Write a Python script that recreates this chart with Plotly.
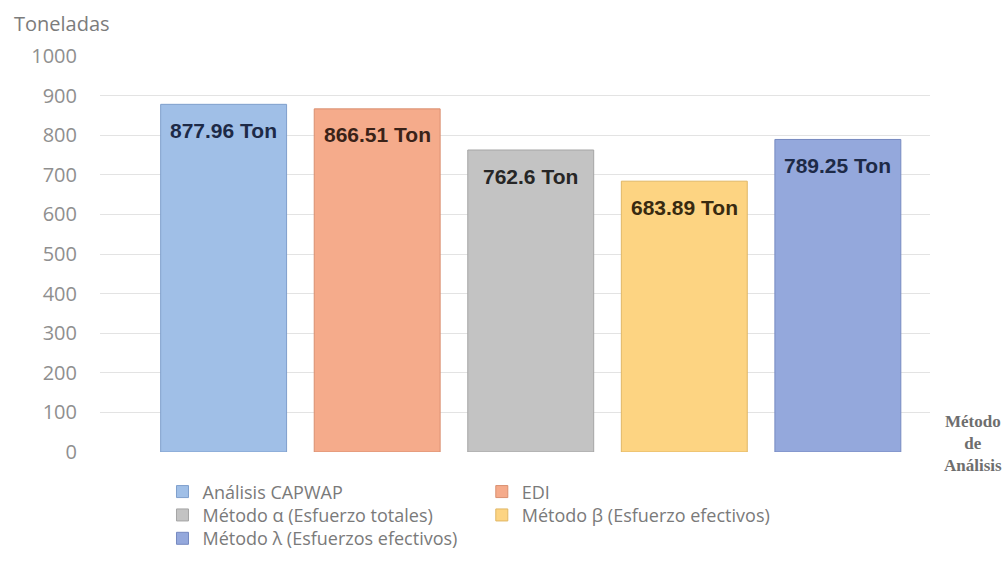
import plotly.graph_objects as go

# Capacidad de carga por método de análisis (toneladas)
metodos = [
    "Análisis CAPWAP",
    "EDI",
    "Método α (Esfuerzo totales)",
    "Método β (Esfuerzo efectivos)",
    "Método λ (Esfuerzos efectivos)",
]
toneladas = [877.96, 866.51, 762.6, 683.89, 789.25]
etiquetas = ["877.96 Ton", "866.51 Ton", "762.6 Ton", "683.89 Ton", "789.25 Ton"]
colores = ["#a0bfe7", "#f5ab8b", "#c3c3c3", "#fdd482", "#94a8dc"]
bordes = ["#7f9fcc", "#d98f70", "#a5a5a5", "#e0b765", "#7689c0"]
color_texto = ["#1d2a47", "#3a2218", "#262626", "#382a10", "#1d2a47"]
y_ticks = list(range(0, 1001, 100))

# Posición de cada entrada de la leyenda (columna, fila) en dos columnas
leyenda_col = [0, 1, 0, 1, 0]
leyenda_fila = [0, 0, 1, 1, 2]
leyenda_x = [0.0753, 0.460]
leyenda_y = [-0.1007, -0.1597, -0.2187]

fig = go.Figure()
for i, (nombre, valor, color, borde) in enumerate(zip(metodos, toneladas, colores, bordes)):
    fig.add_trace(go.Bar(
        x=[nombre], y=[valor], name=nombre, width=0.82,
        marker=dict(color=color, line=dict(color=borde, width=1)),
        legend="legend" if i == 0 else f"legend{i + 1}",
        hoverinfo="x+y",
    ))

# Etiquetas de valor dentro de cada barra, cerca del borde superior
for nombre, valor, texto, ct in zip(metodos, toneladas, etiquetas, color_texto):
    fig.add_annotation(
        x=nombre, y=valor, text=f"<b>{texto}</b>", showarrow=False,
        yanchor="middle", yshift=-26,
        font=dict(family="Liberation Sans, Arial", size=21, color=ct),
    )

fig.add_annotation(
    xref="paper", yref="paper", x=-0.106, y=1.081, xanchor="left", yanchor="middle",
    text="Toneladas", showarrow=False,
    font=dict(family="Open Sans, Liberation Sans", size=20, color="#7c7c7c"),
)
fig.add_annotation(
    xref="paper", yref="paper", x=1.052, y=0.022, xanchor="center", yanchor="middle",
    text="<b>Método<br>de<br>Análisis</b>", showarrow=False, align="center",
    font=dict(family="Liberation Serif, DejaVu Serif", size=17, color="#6e6e6e"),
)

leyenda_fuente = dict(family="Open Sans, Liberation Sans", size=18, color="#7a7a7a")
leyendas = {}
for i in range(len(metodos)):
    clave = "legend" if i == 0 else f"legend{i + 1}"
    leyendas[clave] = dict(
        x=leyenda_x[leyenda_col[i]], y=leyenda_y[leyenda_fila[i]],
        xanchor="left", yanchor="middle", orientation="v",
        font=leyenda_fuente, bgcolor="rgba(0,0,0,0)", itemwidth=30,
    )

fig.update_layout(
    width=1008, height=569,
    margin=dict(l=100, r=78, t=56, b=106),
    paper_bgcolor="white", plot_bgcolor="white",
    barmode="overlay",
    showlegend=True,
    xaxis=dict(
        showticklabels=False, showgrid=False, zeroline=False, showline=False,
        range=[-0.805, 4.6], ticks="",
    ),
    yaxis=dict(
        range=[0, 1000], tickvals=y_ticks, showgrid=True, gridcolor="#e3e3e3",
        gridwidth=1, zeroline=False, showline=False, ticks="",
        tickfont=dict(family="Open Sans, Liberation Sans", size=20, color="#8f8f8f"),
        ticklabelstandoff=22,
    ),
    **leyendas,
)

fig.write_html("out.html")
